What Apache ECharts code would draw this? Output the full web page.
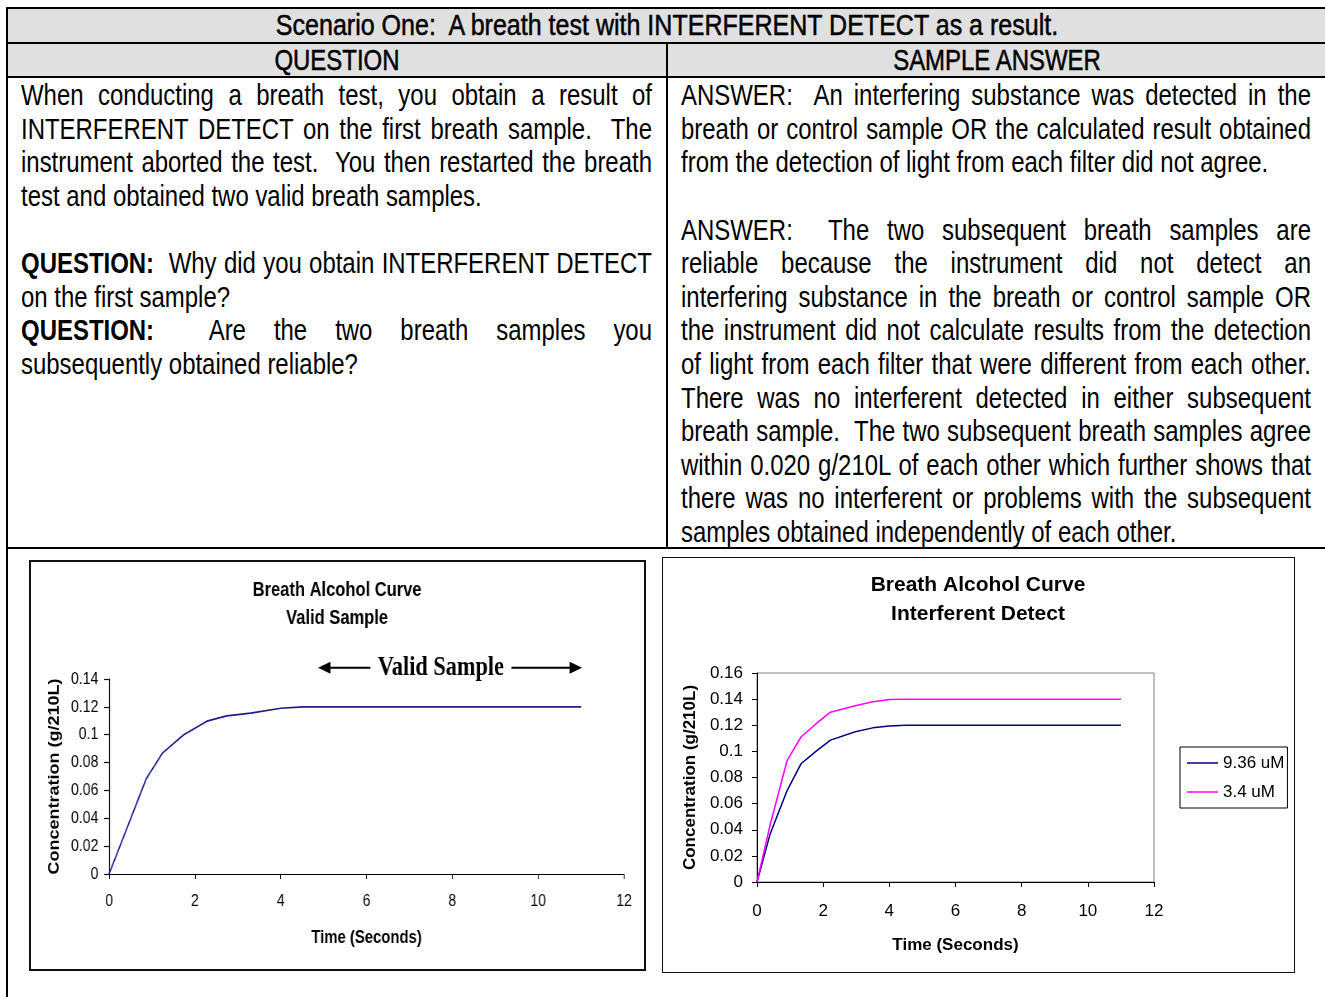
<!DOCTYPE html>
<html><head><meta charset="utf-8">
<script src="https://cdn.jsdelivr.net/npm/echarts@6/dist/echarts.min.js"></script>
<style>
html,body{margin:0;padding:0;background:#fff;width:1325px;height:997px;overflow:hidden;}
body{position:relative;font-family:"Liberation Sans",Arial,sans-serif;color:#000;}
.hl{position:absolute;background:#000;height:2px;left:6px;width:1330px;}
.vl{position:absolute;background:#000;width:2px;}
.bg{position:absolute;background:#e0e0e0;}
.hd{position:absolute;font-size:29px;line-height:33px;text-align:center;white-space:nowrap;-webkit-text-stroke:0.5px #000;transform-origin:0 0;}
.ln{position:absolute;height:33.6px;line-height:33.6px;font-size:29px;white-space:nowrap;transform-origin:0 0;}
.j{text-align:justify;text-align-last:justify;}
.box{position:absolute;box-sizing:border-box;pointer-events:none;}
</style></head><body>

<div class="bg" style="left:8px;top:9px;width:1330px;height:33px;"></div>
<div class="bg" style="left:8px;top:44px;width:1330px;height:32px;"></div>

<div class="hl" style="top:7px;"></div>
<div class="hl" style="top:42px;"></div>
<div class="hl" style="top:76px;"></div>
<div class="hl" style="top:547px;"></div>
<div class="vl" style="left:6px;top:7px;height:990px;"></div>
<div class="vl" style="left:666px;top:42px;height:506px;"></div>

<div id="hdrs"></div>
<div id="leftText"></div>
<div id="rightText"></div>

<div id="c1" style="position:absolute;left:29px;top:560px;width:746px;height:410px;transform:scaleX(0.826);transform-origin:0 0;"></div>
<div class="box" style="left:29px;top:560px;width:617px;height:411px;border:2px solid #111;"></div>
<div id="c2" style="position:absolute;left:662px;top:557px;width:632px;height:415px;"></div>
<div class="box" style="left:662px;top:557px;width:633px;height:416px;border:1.5px solid #111;"></div>

<script>
const NARROW_K = 0.826;   // horizontal condensation of the narrow face
// ---------- text content ----------
const headerTitle = 'Scenario One:&nbsp; A breath test with INTERFERENT DETECT as a result.';
const colHeads = ['QUESTION', 'SAMPLE ANSWER'];
const leftLines = [
  ['j','When conducting a breath test, you obtain a result of'],
  ['j','INTERFERENT DETECT on the first breath sample.&nbsp; The'],
  ['j','instrument aborted the test.&nbsp; You then restarted the breath'],
  ['l','test and obtained two valid breath samples.'],
  ['l',''],
  ['j','<b>QUESTION:</b>&nbsp; Why did you obtain INTERFERENT DETECT'],
  ['l','on the first sample?'],
  ['j','<b>QUESTION:</b>&nbsp; Are the two breath samples you'],
  ['l','subsequently obtained reliable?']
];
const rightLines = [
  ['j','ANSWER:&nbsp; An interfering substance was detected in the'],
  ['j','breath or control sample OR the calculated result obtained'],
  ['l','from the detection of light from each filter did not agree.'],
  ['l',''],
  ['j','ANSWER:&nbsp; The two subsequent breath samples are'],
  ['j','reliable because the instrument did not detect an'],
  ['j','interfering substance in the breath or control sample OR'],
  ['j','the instrument did not calculate results from the detection'],
  ['j','of light from each filter that were different from each other.'],
  ['j','There was no interferent detected in either subsequent'],
  ['j','breath sample.&nbsp; The two subsequent breath samples agree'],
  ['j','within 0.020 g/210L of each other which further shows that'],
  ['j','there was no interferent or problems with the subsequent'],
  ['l','samples obtained independently of each other.']
];
function mk(cls, left, top, width, html, k){
  const d = document.createElement('div');
  d.className = cls;
  d.style.left = left+'px'; d.style.top = top+'px';
  d.style.width = (width/k)+'px';
  d.style.transform = 'scaleX('+k+')';
  d.innerHTML = html;
  return d;
}
const H = document.getElementById('hdrs');
H.appendChild(mk('hd', 8, 9, 1318, headerTitle, NARROW_K*1.045));
H.appendChild(mk('hd', 8, 44, 658, colHeads[0], NARROW_K));
H.appendChild(mk('hd', 668, 44, 658, colHeads[1], NARROW_K));
function putLines(id, lines, left, width){
  const host = document.getElementById(id);
  lines.forEach((l,i)=>{
    host.appendChild(mk('ln' + (l[0]==='j' ? ' j' : ''), left, 79.2 + 33.6*i, width, l[1], NARROW_K));
  });
}
putLines('leftText', leftLines, 21, 631);
putLines('rightText', rightLines, 681, 630);

// ---------- chart data ----------
const validTime = [0, 0.87, 1.25, 1.74, 2.28, 2.74, 3.3, 4.0, 4.52, 11];
const validConc = [0, 0.0686, 0.087, 0.100, 0.1097, 0.1135, 0.1155, 0.119, 0.12, 0.12];
const validRange = [4.87, 11.02];   // "Valid Sample" arrow span (seconds)
const arrowLevel = 0.148;

const interfTime = [0, 0.4, 0.91, 1.33, 1.78, 2.22, 2.97, 3.5, 4.0, 4.5, 11];
const conc936 = [0, 0.037, 0.070, 0.0905, 0.100, 0.1086, 0.115, 0.118, 0.1195, 0.12, 0.12];
const conc34  = [0, 0.044, 0.093, 0.111, 0.121, 0.130, 0.135, 0.138, 0.1397, 0.14, 0.14];
const seriesNames = ['9.36 uM', '3.4 uM'];

const zip = (a,b)=>a.map((v,i)=>[v,b[i]]);
const SANS = '"Liberation Sans", Arial, sans-serif';
const fmt = v => String(+v.toFixed(2));

// ---------- chart 1 (drawn on a wider canvas, condensed by CSS) ----------
const chart1 = echarts.init(document.getElementById('c1'), null, {renderer:'canvas'});
chart1.setOption({
  animation:false,
  title:{text:'Breath Alcohol Curve\nValid Sample', left:'center', top:11,
    textStyle:{fontFamily:SANS, fontWeight:'bold', fontSize:20, lineHeight:28, color:'#000'}},
  grid:{left:96.9, top:119, width:623.5, height:195},
  xAxis:{type:'value', min:0, max:12, interval:2,
    name:'Time (Seconds)', nameLocation:'middle', nameGap:55,
    nameTextStyle:{fontFamily:SANS, fontWeight:'bold', fontSize:18, color:'#000'},
    axisLine:{show:true, lineStyle:{color:'#000', width:1}},
    axisTick:{show:true, length:5, lineStyle:{color:'#000'}},
    axisLabel:{fontFamily:SANS, fontSize:17, color:'#000', margin:19},
    splitLine:{show:false}},
  yAxis:{type:'value', min:0, max:0.14, interval:0.02,
    name:'Concentration (g/210L)', nameLocation:'middle', nameGap:46, nameRotate:90,
    nameTextStyle:{fontFamily:SANS, fontWeight:'bold', fontSize:18, color:'#000'},
    axisLine:{show:true, lineStyle:{color:'#000', width:1.2}},
    axisTick:{show:true, length:6, lineStyle:{color:'#000', width:1.2}},
    axisLabel:{fontFamily:SANS, fontSize:17, color:'#000', margin:13, formatter:fmt},
    splitLine:{show:false}},
  series:[{type:'line', data:zip(validTime, validConc), symbol:'none',
    lineStyle:{color:'#1c1c8c', width:1.7}}]
});
(function(){
  const p1 = chart1.convertToPixel({gridIndex:0},[validRange[0], arrowLevel]);
  const p2 = chart1.convertToPixel({gridIndex:0},[validRange[1], arrowLevel]);
  const y = p1[1], h = 15, w = 6;
  chart1.setOption({graphic:[
    {type:'line', shape:{x1:p1[0]+h-2, y1:y, x2:p2[0]-h+2, y2:y}, style:{stroke:'#000', lineWidth:2}},
    {type:'polygon', shape:{points:[[p1[0],y],[p1[0]+h,y-w],[p1[0]+h,y+w]]}, style:{fill:'#000'}},
    {type:'polygon', shape:{points:[[p2[0],y],[p2[0]-h,y-w],[p2[0]-h,y+w]]}, style:{fill:'#000'}},
    {type:'text', x:(p1[0]+p2[0])/2 - 11, y:y, z:10,
      style:{text:'Valid Sample', fontFamily:'"Liberation Serif","Times New Roman",serif', fontWeight:'bold', fontSize:27,
        align:'center', verticalAlign:'middle', fill:'#000', backgroundColor:'#fff', padding:[0,9,0,9]}}
  ]});
})();

// ---------- chart 2 ----------
const chart2 = echarts.init(document.getElementById('c2'), null, {renderer:'canvas'});
chart2.setOption({
  animation:false,
  title:{text:'Breath Alcohol Curve\nInterferent Detect', left:'center', top:9,
    textStyle:{fontFamily:SANS, fontWeight:'bold', fontSize:21, lineHeight:29, color:'#000'}},
  grid:{left:95, top:116, width:397, height:209, show:true, borderColor:'#808080', borderWidth:1},
  legend:{orient:'vertical', left:518, top:190, data:seriesNames,
    icon:'rect', itemWidth:31, itemHeight:1.5, itemGap:9, itemTextGap:4,
    borderColor:'#000', borderWidth:1, padding:[6,3,6,7],
    textStyle:{fontFamily:SANS, fontSize:17, color:'#000', lineHeight:20}},
  xAxis:{type:'value', min:0, max:12, interval:2,
    name:'Time (Seconds)', nameLocation:'middle', nameGap:55,
    nameTextStyle:{fontFamily:SANS, fontWeight:'bold', fontSize:17, color:'#000'},
    axisLine:{show:true, lineStyle:{color:'#000', width:1}},
    axisTick:{show:true, length:5, lineStyle:{color:'#000'}},
    axisLabel:{fontFamily:SANS, fontSize:17, color:'#000', margin:21},
    splitLine:{show:false}},
  yAxis:{type:'value', min:0, max:0.16, interval:0.02,
    name:'Concentration (g/210L)', nameLocation:'middle', nameGap:57, nameRotate:90,
    nameTextStyle:{fontFamily:SANS, fontWeight:'bold', fontSize:17, color:'#000'},
    axisLine:{show:true, lineStyle:{color:'#000', width:1}},
    axisTick:{show:true, length:5, lineStyle:{color:'#000'}},
    axisLabel:{fontFamily:SANS, fontSize:17, color:'#000', margin:14, formatter:fmt},
    splitLine:{show:false}},
  series:[
    {name:seriesNames[0], type:'line', data:zip(interfTime, conc936), symbol:'none',
      itemStyle:{color:'#000080'}, lineStyle:{color:'#000080', width:1.5}},
    {name:seriesNames[1], type:'line', data:zip(interfTime, conc34), symbol:'none',
      itemStyle:{color:'#ff00ff'}, lineStyle:{color:'#ff00ff', width:1.5}}
  ]
});
</script>
</body></html>
